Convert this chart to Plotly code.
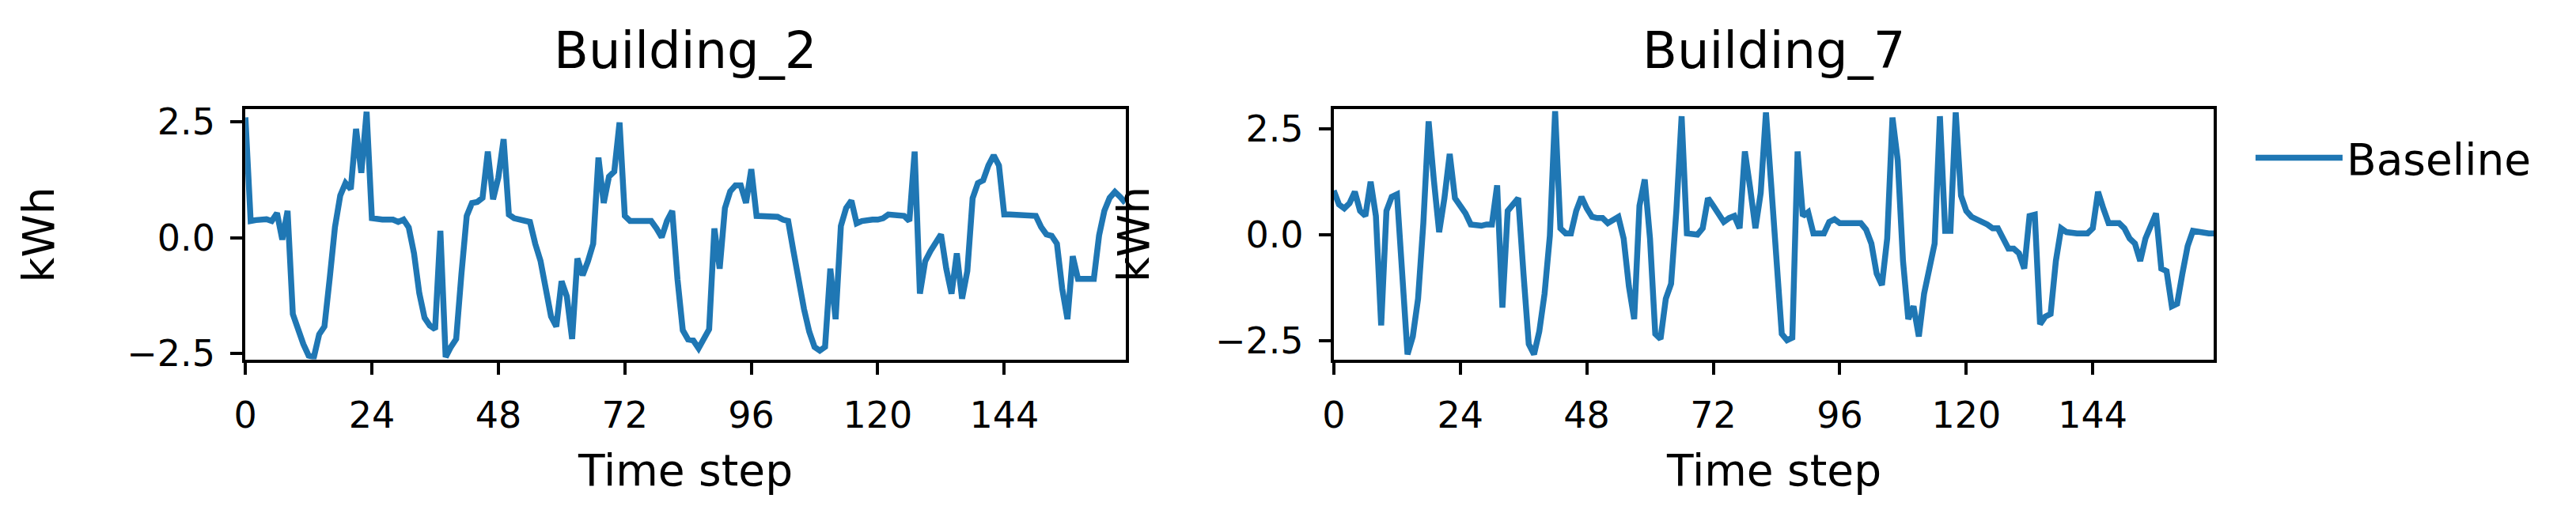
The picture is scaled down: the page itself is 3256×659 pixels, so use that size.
import plotly.graph_objects as go

# ---- data ----
time_step = list(range(168))

building_2 = [
    2.60, 0.36, 0.38, 0.40, 0.40, 0.36, 0.53, -0.04, 0.58, -1.65,
    -2.00, -2.30, -2.55, -2.58, -2.09, -1.92, -0.88, 0.23, 0.91, 1.18,
    1.05, 2.35, 1.40, 2.72, 0.42, 0.39, 0.39, 0.39, 0.39, 0.34,
    0.39, 0.22, -0.34, -1.20, -1.73, -1.90, -1.98, 0.15, -2.58, -2.36,
    -2.19, -0.78, 0.47, 0.75, 0.77, 0.86, 1.86, 0.83, 1.30, 2.13,
    0.50, 0.42, 0.39, 0.39, 0.34, -0.13, -0.50, -1.10, -1.70, -1.92,
    -0.94, -1.27, -2.19, -0.45, -0.81, -0.51, -0.13, 1.73, 0.75, 1.32,
    1.43, 2.49, 0.47, 0.36, 0.36, 0.39, 0.39, 0.36, 0.20, 0.01,
    0.36, 0.58, -0.90, -2.00, -2.20, -2.22, -2.39, -2.17, -1.98, 0.20,
    -0.67, 0.64, 1.00, 1.13, 1.13, 0.75, 1.48, 0.47, 0.47, 0.47,
    0.47, 0.45, 0.39, 0.36, -0.29, -1.00, -1.54, -2.03, -2.36, -2.44,
    -2.36, -0.67, -1.76, 0.25, 0.64, 0.80, 0.31, 0.36, 0.39, 0.39,
    0.39, 0.42, 0.50, 0.50, 0.50, 0.47, 0.36, 1.86, -1.21, -0.51,
    -0.29, -0.10, 0.07, -0.67, -1.21, -0.34, -1.32, -0.72, 0.85, 1.18,
    1.24, 1.56, 1.78, 1.56, 0.50, 0.50, 0.50, 0.50, 0.50, 0.50,
    0.47, 0.23, 0.07, 0.04, -0.13, -1.10, -1.76, -0.40, -0.89, -0.89,
    -0.89, -0.89, 0.05, 0.58, 0.86, 0.99, 0.88, 0.75,
]

building_7 = [
    1.04, 0.71, 0.62, 0.74, 1.01, 0.56, 0.44, 1.25, 0.44, -2.14,
    0.56, 0.89, 0.95, -0.92, -2.82, -2.40, -1.51, 0.27, 2.67, 1.28,
    0.06, 0.86, 1.90, 0.86, 0.68, 0.50, 0.24, 0.21, 0.21, 0.24,
    0.24, 1.16, -1.72, 0.56, 0.74, 0.86, -0.92, -2.58, -2.82, -2.28,
    -1.39, -0.03, 2.91, 0.15, 0.03, 0.03, 0.56, 0.89, 0.62, 0.42,
    0.39, 0.39, 0.27, 0.33, 0.42, -0.09, -1.22, -1.99, 0.68, 1.30,
    -0.09, -2.34, -2.46, -1.51, -1.16, 0.56, 2.79, 0.03, 0.00, 0.00,
    0.15, 0.86, 0.68, 0.50, 0.30, 0.39, 0.44, 0.15, 1.96, 1.10,
    0.15, 0.98, 2.88, 1.16, -0.62, -2.34, -2.49, -2.43, 1.96, 0.44,
    0.53, 0.03, 0.03, 0.03, 0.30, 0.36, 0.27, 0.27, 0.27, 0.27,
    0.27, 0.12, -0.21, -0.92, -1.19, -0.09, 2.76, 1.75, -0.62, -1.99,
    -1.69, -2.40, -1.39, -0.80, -0.21, 2.79, 0.09, 0.09, 2.88, 0.92,
    0.56, 0.42, 0.36, 0.33, 0.24, 0.15, 0.15, -0.09, -0.33, -0.33,
    -0.44, -0.80, 0.44, 0.47, -2.11, -1.93, -1.87, -0.62, 0.15, 0.06,
    0.03, 0.03, 0.03, 0.03, 0.15, 1.01, 0.62, 0.27, 0.27, 0.27,
    0.15, -0.09, -0.21, -0.62, -0.09, 0.21, 0.50, -0.80, -0.86, -1.69,
    -1.63, -0.92, -0.27, 0.09, 0.06, 0.03, 0.03, 0.03,
]

buildings = ["Building_2", "Building_7"]
series_name = "Baseline"
x_tick_vals = [0, 24, 48, 72, 96, 120, 144]
y_tick_vals = [-2.5, 0.0, 2.5]
y_tick_text = ["\u22122.5", "0.0", "2.5"]
y_ranges = [[-2.63, 2.77], [-2.94, 2.95]]

# ---- figure ----
W, H = 3256, 659
FONT = "DejaVu Sans"
BLUE = "#1f77b4"
TICK_SIZE = 46
LABEL_SIZE = 55
TITLE_SIZE = 64

fig = go.Figure()
fig.add_trace(go.Scatter(x=time_step, y=building_2, mode="lines",
                         line=dict(color=BLUE, width=7.5), name=series_name,
                         showlegend=True, xaxis="x", yaxis="y"))
fig.add_trace(go.Scatter(x=time_step, y=building_7, mode="lines",
                         line=dict(color=BLUE, width=7.5), name=series_name,
                         showlegend=False, xaxis="x2", yaxis="y2"))

x_doms = [[288.5 / W, 1406 / W], [1670.5 / W, 2788.3 / W]]
y_dom = [1 - 456.7 / H, 1 - 126 / H]

common_axis = dict(showline=True, mirror=True, linecolor="black", linewidth=4,
                   ticks="outside", ticklen=15, tickwidth=4, tickcolor="black",
                   showgrid=False, zeroline=False,
                   tickfont=dict(family=FONT, size=TICK_SIZE, color="black"))

layout = dict(width=W, height=H, margin=dict(l=0, r=0, t=0, b=0),
              paper_bgcolor="white", plot_bgcolor="white",
              font=dict(family=FONT, color="black"))
for i in range(2):
    sx = "" if i == 0 else "2"
    layout["xaxis" + sx] = dict(domain=x_doms[i], range=[0, 167],
                                tickvals=x_tick_vals, anchor="y" + sx,
                                ticklabelstandoff=12, **common_axis)
    layout["yaxis" + sx] = dict(domain=y_dom, range=y_ranges[i],
                                tickvals=y_tick_vals, ticktext=y_tick_text,
                                anchor="x" + sx, ticklabelstandoff=10, **common_axis)
fig.update_layout(**layout)

annotations = []
for i in range(2):
    cx = (x_doms[i][0] + x_doms[i][1]) / 2
    annotations.append(dict(text=buildings[i], x=cx, y=1 - 48 / H, xref="paper", yref="paper",
                            xanchor="center", yanchor="middle", showarrow=False,
                            font=dict(family=FONT, size=TITLE_SIZE, color="black")))
    annotations.append(dict(text="Time step", x=cx, y=1 - 604 / H, xref="paper", yref="paper",
                            xanchor="center", yanchor="middle", showarrow=False,
                            font=dict(family=FONT, size=LABEL_SIZE, color="black")))
ylab_x = [26 / W, 1416 / W]
for i in range(2):
    annotations.append(dict(text="kWh", x=ylab_x[i], y=(y_dom[0] + y_dom[1]) / 2,
                            xref="paper", yref="paper", xanchor="center", yanchor="middle",
                            textangle=-90, showarrow=False,
                            font=dict(family=FONT, size=LABEL_SIZE, color="black")))
fig.update_layout(annotations=annotations)

fig.update_layout(legend=dict(x=2836 / W, y=1 - 190 / H, xanchor="left", yanchor="middle",
                              bgcolor="rgba(0,0,0,0)", borderwidth=0, itemwidth=110,
                              font=dict(family=FONT, size=LABEL_SIZE, color="black")))

fig.write_html("out.html")
